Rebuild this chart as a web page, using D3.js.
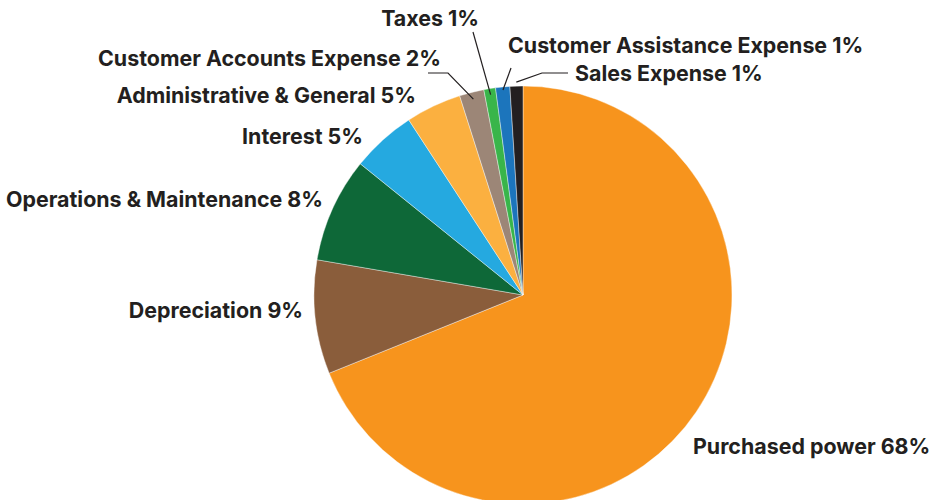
<!DOCTYPE html>
<html>
<head>
<meta charset="utf-8">
<script src="https://cdn.jsdelivr.net/npm/d3@7"></script>
<style>
  html, body { margin: 0; padding: 0; background: #fff; }
  svg { display: block; }
  .lbl { font-family: Inter, "Noto Sans", sans-serif; font-weight: 700; font-size: 21.4px; fill: #231f20; }
</style>
</head>
<body>
<svg id="chart" width="934" height="500"></svg>
<script>
// ---- data ----
const categories = [
  "Purchased power", "Depreciation", "Operations & Maintenance", "Interest",
  "Administrative & General", "Customer Accounts Expense", "Taxes",
  "Customer Assistance Expense", "Sales Expense"
];
const values = [68.9, 8.8, 8.1, 5.0, 4.3, 1.9, 0.9, 1.1, 1.0];   // slice sizes
const labelPct = ["68%", "9%", "8%", "5%", "5%", "2%", "1%", "1%", "1%"];
const colors = ["#f7941d", "#8a5d3b", "#0e6838", "#25a9e0", "#fbb040", "#9c8677", "#39b54a", "#1c75bc", "#231f20"];

// ---- layout (label placement) ----
const cx = 523, cy = 295, R = 209;
const labelLayout = [
  { x: 693, y: 454, anchor: "start" },
  { x: 303, y: 318, anchor: "end" },
  { x: 323, y: 207, anchor: "end" },
  { x: 363, y: 144, anchor: "end" },
  { x: 416, y: 103, anchor: "end" },
  { x: 441, y: 66, anchor: "end", leaderR: 202, elbow: [[448, 73], [428, 73]] },
  { x: 479, y: 26, anchor: "end", leaderR: 203, elbow: [[473, 32]] },
  { x: 508, y: 53, anchor: "start", leaderR: 206, elbow: [[511, 68]] },
  { x: 575, y: 81, anchor: "start", leaderR: 213, elbow: [[542, 73], [568, 73]] }
];

const svg = d3.select("#chart");
const g = svg.append("g").attr("transform", `translate(${cx},${cy})`);

const pie = d3.pie().sort(null).value(d => d);
const arcs = pie(values);
const arc = d3.arc().innerRadius(0).outerRadius(R);

g.selectAll("path.slice")
  .data(arcs)
  .join("path")
  .attr("class", "slice")
  .attr("d", arc)
  .attr("fill", (d, i) => colors[i])
  .attr("stroke", "#ffffff")
  .attr("stroke-width", 0.4);

// leader lines
arcs.forEach((a, i) => {
  const L = labelLayout[i];
  if (!L.leaderR) return;
  const mid = (a.startAngle + a.endAngle) / 2;
  const p0 = [cx + L.leaderR * Math.sin(mid), cy - L.leaderR * Math.cos(mid)];
  const pts = [p0].concat(L.elbow);
  svg.append("path")
    .attr("d", d3.line()(pts))
    .attr("fill", "none")
    .attr("stroke", "#231f20")
    .attr("stroke-width", 1.2);
});

// labels
svg.selectAll("text.lbl")
  .data(arcs)
  .join("text")
  .attr("class", "lbl")
  .attr("x", (d, i) => labelLayout[i].x)
  .attr("y", (d, i) => labelLayout[i].y)
  .attr("text-anchor", (d, i) => labelLayout[i].anchor)
  .text((d, i) => categories[i] + " " + labelPct[i]);
</script>
</body>
</html>
